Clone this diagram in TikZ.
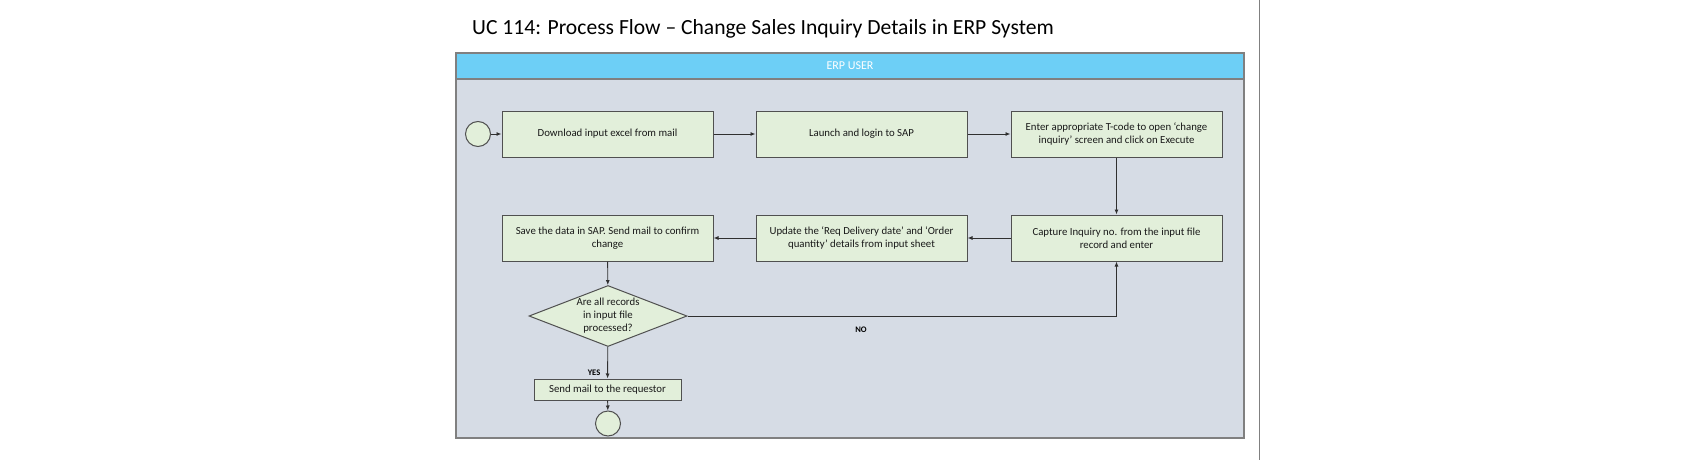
\documentclass[tikz,border=0pt]{standalone}
\usepackage{fontspec}
\setmainfont{Carlito}
\usetikzlibrary{shapes.geometric,arrows.meta}
\definecolor{hdrblue}{HTML}{6DCFF6}
\definecolor{poolbg}{HTML}{D6DCE5}
\definecolor{boxgreen}{HTML}{E2EFDA}
\definecolor{edgegray}{HTML}{505050}
\definecolor{linegray}{HTML}{303030}
\tikzset{
  stepbox/.style={draw=edgegray, line width=1pt, fill=boxgreen, minimum width=211pt, minimum height=46pt, inner sep=2pt, align=center, text=black!90, font=\fontsize{10.8pt}{13.4pt}\selectfont},
  evt/.style={circle, draw=edgegray, line width=1pt, fill=boxgreen, minimum size=25pt, inner sep=0pt},
  decis/.style={diamond, draw=edgegray, line width=1pt, fill=boxgreen, minimum width=158pt, minimum height=61pt, inner sep=0pt},
  flow/.style={draw=linegray, line width=0.9pt, -{Latex[length=5pt,width=4pt]}},
  lbl/.style={font=\bfseries\fontsize{8.5pt}{10pt}\selectfont, inner sep=0pt}
}
\begin{document}
\begin{tikzpicture}[x=1pt,y=-1pt]
\useasboundingbox (0,0) rectangle (1702,460);
\fill[white] (0,0) rectangle (1702,460);
% title
\node[anchor=base west, inner sep=0pt, font=\fontsize{21.6pt}{26pt}\selectfont] (title) at (472,35) {UC 114: Process Flow – Change Sales Inquiry Details in ERP System};
% right separator
\draw[draw=gray, line width=1pt] (1259,0) -- (1259,460);
% pool
\draw[draw=gray, line width=1.2pt, fill=poolbg] (456,53) rectangle (1244,438);
\draw[draw=gray, line width=1.2pt, fill=hdrblue] (456,53) rectangle (1244,79);
\node[text=white, font=\fontsize{12pt}{14pt}\selectfont] (lane) at (850,66) {ERP USER};
% nodes
\node[evt] (start) at (478,134) {};
\node[stepbox] (b1) at (607.5,134) {Download input excel from mail};
\node[stepbox] (b2) at (861.5,134) {Launch and login to SAP};
\node[stepbox] (b3) at (1116.5,134) {Enter appropriate T-code to open ‘change\\inquiry’ screen and click on Execute};
\node[stepbox] (b6) at (1116.5,238) {Capture Inquiry no. from the input file\\record and enter};
\node[stepbox] (b5) at (861.5,238) {Update the ‘Req Delivery date’ and ‘Order\\quantity’ details from input sheet};
\node[stepbox] (b4) at (607.5,238) {Save the data in SAP. Send mail to confirm\\change};
\node[decis] (dec) at (608,316) {};
\node[align=center, text=black!90, font=\fontsize{10.8pt}{13pt}\selectfont] (dectext) at (608,316) {Are all records\\in input file\\processed?};
\node[stepbox, minimum width=147pt, minimum height=21pt] (send) at (607.5,389.5) {Send mail to the requestor};
\node[evt] (end) at (608,423.5) {};
% connectors
\draw[flow] (start) -- (b1);
\draw[flow] (b1) -- (b2);
\draw[flow] (b2) -- (b3);
\draw[flow] (b3) -- (b6);
\draw[flow] (b6) -- (b5);
\draw[flow] (b5) -- (b4);
\draw[flow] (b4) -- (dec);
\draw[flow] (dec.east) -| (b6.south);
\draw[flow] (dec) -- (send);
\draw[flow] (send) -- (end);
% labels
\node[lbl] (nolbl) at (861,330) {NO};
\node[lbl] (yeslbl) at (594,373) {YES};
\end{tikzpicture}
\end{document}
